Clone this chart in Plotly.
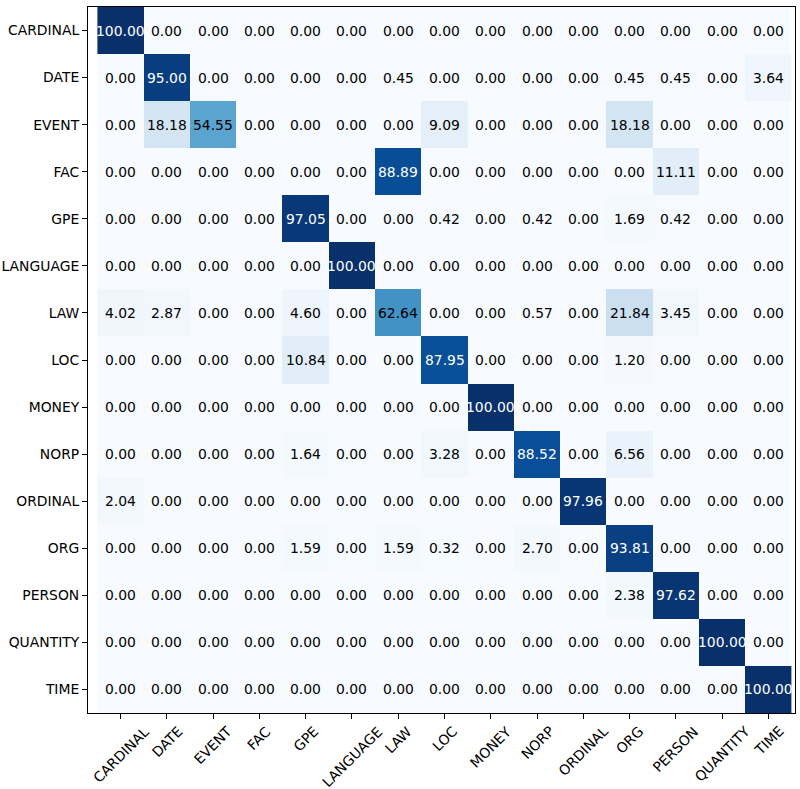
import plotly.graph_objects as go

labels = ["CARDINAL", "DATE", "EVENT", "FAC", "GPE", "LANGUAGE", "LAW", "LOC",
          "MONEY", "NORP", "ORDINAL", "ORG", "PERSON", "QUANTITY", "TIME"]

row_cardinal = [100.00, 0, 0, 0, 0, 0, 0, 0, 0, 0, 0, 0, 0, 0, 0]
row_date = [0, 95.00, 0, 0, 0, 0, 0.45, 0, 0, 0, 0, 0.45, 0.45, 0, 3.64]
row_event = [0, 18.18, 54.55, 0, 0, 0, 0, 9.09, 0, 0, 0, 18.18, 0, 0, 0]
row_fac = [0, 0, 0, 0, 0, 0, 88.89, 0, 0, 0, 0, 0, 11.11, 0, 0]
row_gpe = [0, 0, 0, 0, 97.05, 0, 0, 0.42, 0, 0.42, 0, 1.69, 0.42, 0, 0]
row_language = [0, 0, 0, 0, 0, 100.00, 0, 0, 0, 0, 0, 0, 0, 0, 0]
row_law = [4.02, 2.87, 0, 0, 4.60, 0, 62.64, 0, 0, 0.57, 0, 21.84, 3.45, 0, 0]
row_loc = [0, 0, 0, 0, 10.84, 0, 0, 87.95, 0, 0, 0, 1.20, 0, 0, 0]
row_money = [0, 0, 0, 0, 0, 0, 0, 0, 100.00, 0, 0, 0, 0, 0, 0]
row_norp = [0, 0, 0, 0, 1.64, 0, 0, 3.28, 0, 88.52, 0, 6.56, 0, 0, 0]
row_ordinal = [2.04, 0, 0, 0, 0, 0, 0, 0, 0, 0, 97.96, 0, 0, 0, 0]
row_org = [0, 0, 0, 0, 1.59, 0, 1.59, 0.32, 0, 2.70, 0, 93.81, 0, 0, 0]
row_person = [0, 0, 0, 0, 0, 0, 0, 0, 0, 0, 0, 2.38, 97.62, 0, 0]
row_quantity = [0, 0, 0, 0, 0, 0, 0, 0, 0, 0, 0, 0, 0, 100.00, 0]
row_time = [0, 0, 0, 0, 0, 0, 0, 0, 0, 0, 0, 0, 0, 0, 100.00]

matrix = [row_cardinal, row_date, row_event, row_fac, row_gpe, row_language,
          row_law, row_loc, row_money, row_norp, row_ordinal, row_org,
          row_person, row_quantity, row_time]

blues = ['rgb(247,251,255)', 'rgb(222,235,247)', 'rgb(198,219,239)',
         'rgb(158,202,225)', 'rgb(107,174,214)', 'rgb(66,146,198)',
         'rgb(33,113,181)', 'rgb(8,81,156)', 'rgb(8,48,107)']
colorscale = [[i / (len(blues) - 1), c] for i, c in enumerate(blues)]

FONT = "DejaVu Sans"
FS = 13.9

fig = go.Figure(go.Heatmap(
    z=matrix, x=labels, y=labels, colorscale=colorscale,
    zmin=0, zmax=100, showscale=False, hoverinfo="skip", xgap=0, ygap=0,
))

annotations = []
for i, rl in enumerate(labels):
    for j, cl in enumerate(labels):
        v = matrix[i][j]
        annotations.append(dict(
            x=cl, y=rl, text=f"{v:.2f}", showarrow=False,
            font=dict(family=FONT, size=FS, color="white" if v > 75 else "black"),
        ))

# x tick labels rotated 45 degrees, centred on their ticks (matplotlib style)
for cl in labels:
    annotations.append(dict(
        x=cl, xref="x", y=0, yref="paper", text=cl, showarrow=False,
        textangle=-45, xanchor="center", yanchor="top", yshift=-9,
        borderpad=0,
        font=dict(family=FONT, size=FS, color="black"),
    ))

fig.update_layout(
    width=800, height=789,
    margin=dict(l=88, r=5, t=7, b=76, autoexpand=False),
    paper_bgcolor="white", plot_bgcolor="white",
    font=dict(family=FONT, size=FS, color="black"),
    annotations=annotations,
    xaxis=dict(ticks="outside", ticklen=5, tickcolor="black",
               showline=True, linecolor="black", linewidth=1, mirror=True,
               showgrid=False, zeroline=False, automargin=False,
               showticklabels=False),
    yaxis=dict(autorange="reversed", ticks="outside", ticklen=5, tickcolor="black",
               showline=True, linecolor="black", linewidth=1, mirror=True,
               showgrid=False, zeroline=False, automargin=False,
               tickfont=dict(family=FONT, size=FS, color="black")),
)

fig.write_html("out.html", config={"displayModeBar": False},
               post_script="document.body.style.margin='0';document.body.style.overflow='hidden';")
